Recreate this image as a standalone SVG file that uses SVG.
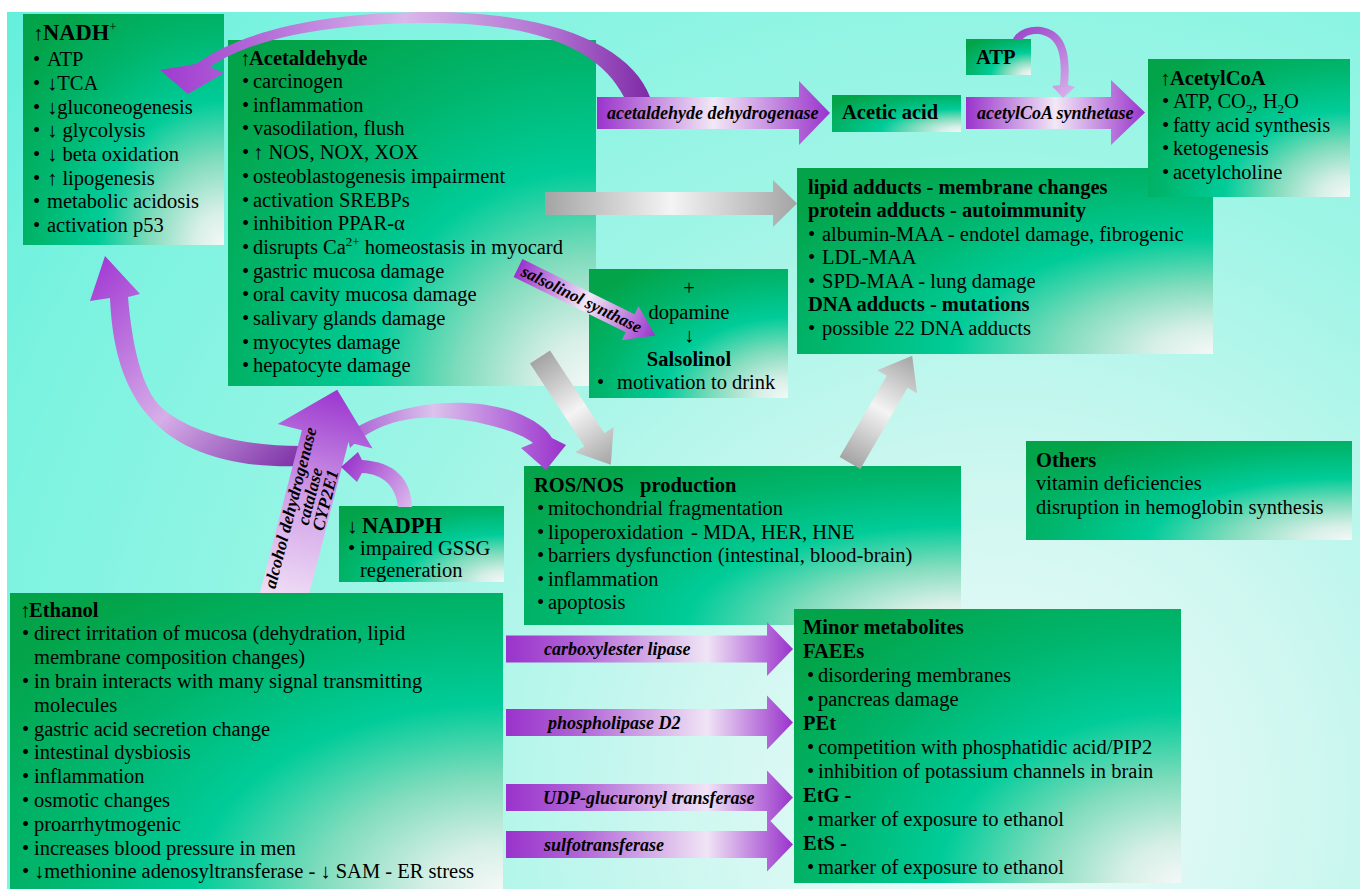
<svg xmlns="http://www.w3.org/2000/svg" width="1360" height="889" viewBox="0 0 1360 889">
<defs>
<radialGradient id="gBg" gradientUnits="userSpaceOnUse" cx="1000" cy="800" r="1300">
<stop offset="0" stop-color="#f2fbfb"/><stop offset="0.25" stop-color="#cdf7f0"/><stop offset="0.5" stop-color="#9ef5e6"/><stop offset="0.8" stop-color="#7cf3e0"/><stop offset="1" stop-color="#60efdc"/>
</radialGradient>
<radialGradient id="gBox" cx="1" cy="1" r="1.25" fx="1" fy="1">
<stop offset="0" stop-color="#f4f8f7"/><stop offset="0.12" stop-color="#d6efe6"/><stop offset="0.3" stop-color="#7fdcbc"/><stop offset="0.5" stop-color="#00cc99"/><stop offset="0.75" stop-color="#00b56c"/><stop offset="1" stop-color="#03a449"/>
</radialGradient>
<linearGradient id="gPurpH" x1="0" y1="0" x2="1" y2="0">
<stop offset="0" stop-color="#9a33cc"/><stop offset="0.5" stop-color="#f2e8f6"/><stop offset="1" stop-color="#9a33cc"/>
</linearGradient>
<linearGradient id="gPurpM" x1="0" y1="0" x2="1" y2="0">
<stop offset="0" stop-color="#9a33cc"/><stop offset="0.25" stop-color="#b063d6"/><stop offset="0.7" stop-color="#f0e4f5"/><stop offset="1" stop-color="#9a33cc"/>
</linearGradient>
<linearGradient id="gGray" x1="0" y1="0" x2="1" y2="0">
<stop offset="0" stop-color="#a4a4a4"/><stop offset="0.5" stop-color="#f4f4f4"/><stop offset="1" stop-color="#a4a4a4"/>
</linearGradient>
<linearGradient id="gBig" x1="0" y1="1" x2="0" y2="0">
<stop offset="0" stop-color="#f3e6f8"/><stop offset="0.5" stop-color="#d2a2e8"/><stop offset="1" stop-color="#9b35cf"/>
</linearGradient>
<linearGradient id="gTop" gradientUnits="userSpaceOnUse" x1="160" y1="0" x2="650" y2="0">
<stop offset="0" stop-color="#a03ad0"/><stop offset="0.2" stop-color="#b36ad8"/><stop offset="0.5" stop-color="#d9b8ea"/><stop offset="0.8" stop-color="#b070d0"/><stop offset="1" stop-color="#7e2aa6"/>
</linearGradient>
<linearGradient id="gLeft" gradientUnits="userSpaceOnUse" x1="300" y1="460" x2="104" y2="260">
<stop offset="0" stop-color="#7e33a8"/><stop offset="0.45" stop-color="#d6aee8"/><stop offset="1" stop-color="#a43dd4"/>
</linearGradient>
<linearGradient id="gRos" gradientUnits="userSpaceOnUse" x1="345" y1="0" x2="566" y2="0">
<stop offset="0" stop-color="#a55ad0"/><stop offset="0.4" stop-color="#dcc2ec"/><stop offset="1" stop-color="#9a30cc"/>
</linearGradient>
<linearGradient id="gNadph" gradientUnits="userSpaceOnUse" x1="410" y1="507" x2="342" y2="466">
<stop offset="0" stop-color="#dcb8ec"/><stop offset="1" stop-color="#9a35cc"/>
</linearGradient>
<linearGradient id="gAtp" gradientUnits="userSpaceOnUse" x1="1015" y1="30" x2="1065" y2="98">
<stop offset="0" stop-color="#9d45c9"/><stop offset="1" stop-color="#d6b0ea"/>
</linearGradient>
<clipPath id="cBig"><rect x="0" y="0" width="1360" height="593"/></clipPath>
<style>
.bx{fill:url(#gBox);}
.t{font-family:"Liberation Serif","Times New Roman","DejaVu Serif",serif;font-size:20.5px;fill:#000;}
.b{font-weight:bold;}
.h{font-size:22.5px;}
.lb{font-family:"Liberation Serif","Times New Roman","DejaVu Serif",serif;font-size:18px;font-style:italic;font-weight:bold;fill:#000;}
.sup{font-size:13px;}
</style>
</defs>

<rect x="0" y="0" width="1360" height="889" fill="#ffffff"/>
<rect x="7" y="12" width="1353" height="877" fill="url(#gBg)"/>

<g id="node-nadh">
<rect class="bx" x="23" y="14" width="201" height="231"/>
<text class="t" y="40"><tspan x="33">↑</tspan><tspan class="b h" x="43">NADH</tspan><tspan class="sup" dy="-9">+</tspan></text>
<text class="t" y="66"><tspan x="33">•</tspan><tspan x="47">ATP</tspan></text>
<text class="t" y="89.5"><tspan x="33">•</tspan><tspan x="47">↓TCA</tspan></text>
<text class="t" y="113.5"><tspan x="33">•</tspan><tspan x="47">↓gluconeogenesis</tspan></text>
<text class="t" y="137"><tspan x="33">•</tspan><tspan x="47">↓ glycolysis</tspan></text>
<text class="t" y="161"><tspan x="33">•</tspan><tspan x="47">↓ beta oxidation</tspan></text>
<text class="t" y="184.5"><tspan x="33">•</tspan><tspan x="47">↑ lipogenesis</tspan></text>
<text class="t" y="208"><tspan x="33">•</tspan><tspan x="47">metabolic acidosis</tspan></text>
<text class="t" y="232"><tspan x="33">•</tspan><tspan x="47">activation p53</tspan></text>
</g>

<g id="node-acetaldehyde">
<rect class="bx" x="228" y="40" width="368" height="346"/>
<text class="t" y="64.5"><tspan x="240">↑</tspan><tspan class="b" x="249">Acetaldehyde</tspan></text>
<text class="t" y="88"><tspan x="242">•</tspan><tspan x="253">carcinogen</tspan></text>
<text class="t" y="111.7"><tspan x="242">•</tspan><tspan x="253">inflammation</tspan></text>
<text class="t" y="135.4"><tspan x="242">•</tspan><tspan x="253">vasodilation, flush</tspan></text>
<text class="t" y="159.1"><tspan x="242">•</tspan><tspan x="253">↑ NOS, NOX, XOX</tspan></text>
<text class="t" y="182.8"><tspan x="242">•</tspan><tspan x="253">osteoblastogenesis impairment</tspan></text>
<text class="t" y="206.5"><tspan x="242">•</tspan><tspan x="253">activation SREBPs</tspan></text>
<text class="t" y="230.2"><tspan x="242">•</tspan><tspan x="253">inhibition PPAR-α</tspan></text>
<text class="t" y="253.9"><tspan x="242">•</tspan><tspan x="253">disrupts Ca</tspan><tspan class="sup" dy="-8">2+</tspan><tspan dy="8"> homeostasis in myocard</tspan></text>
<text class="t" y="277.6"><tspan x="242">•</tspan><tspan x="253">gastric mucosa damage</tspan></text>
<text class="t" y="301.3"><tspan x="242">•</tspan><tspan x="253">oral cavity mucosa damage</tspan></text>
<text class="t" y="325"><tspan x="242">•</tspan><tspan x="253">salivary glands damage</tspan></text>
<text class="t" y="348.7"><tspan x="242">•</tspan><tspan x="253">myocytes damage</tspan></text>
<text class="t" y="372.4"><tspan x="242">•</tspan><tspan x="253">hepatocyte damage</tspan></text>
</g>

<g id="node-acetic-acid">
<rect class="bx" x="832" y="95" width="129" height="37"/>
<text class="t b" x="842" y="119">Acetic acid</text>
</g>

<g id="node-atp">
<rect class="bx" x="966" y="39" width="65" height="36"/>
<text class="t b" x="976" y="64">ATP</text>
</g>

<g id="node-lipid-adducts">
<rect class="bx" x="797" y="168" width="416" height="186"/>
<text class="t b" x="808" y="193.5">lipid adducts - membrane changes</text>
<text class="t b" x="808" y="217">protein adducts - autoimmunity</text>
<text class="t" y="240.5"><tspan x="808">•</tspan><tspan x="822">albumin-MAA - endotel damage, fibrogenic</tspan></text>
<text class="t" y="264"><tspan x="808">•</tspan><tspan x="822">LDL-MAA</tspan></text>
<text class="t" y="287.5"><tspan x="808">•</tspan><tspan x="822">SPD-MAA - lung damage</tspan></text>
<text class="t b" x="808" y="311">DNA adducts - mutations</text>
<text class="t" y="334.5"><tspan x="808">•</tspan><tspan x="822">possible 22 DNA adducts</tspan></text>
</g>

<g id="node-acetylcoa">
<rect class="bx" x="1148" y="59" width="202" height="138"/>
<text class="t" y="85"><tspan x="1160">↑</tspan><tspan class="b" x="1170">AcetylCoA</tspan></text>
<text class="t" y="108"><tspan x="1162">•</tspan><tspan x="1173">ATP, CO</tspan><tspan class="sup" dy="5">2</tspan><tspan dy="-5">, H</tspan><tspan class="sup" dy="5">2</tspan><tspan dy="-5">O</tspan></text>
<text class="t" y="131.5"><tspan x="1162">•</tspan><tspan x="1173">fatty acid synthesis</tspan></text>
<text class="t" y="155"><tspan x="1162">•</tspan><tspan x="1173">ketogenesis</tspan></text>
<text class="t" y="178.5"><tspan x="1162">•</tspan><tspan x="1173">acetylcholine</tspan></text>
</g>

<g id="node-salsolinol">
<rect class="bx" x="589" y="269" width="199" height="129"/>
<text class="t" x="689" y="295" text-anchor="middle">+</text>
<text class="t" x="689" y="318.5" text-anchor="middle">dopamine</text>
<text class="t" x="689" y="342" text-anchor="middle">↓</text>
<text class="t b" x="689" y="365.5" text-anchor="middle">Salsolinol</text>
<text class="t" y="389"><tspan x="597">•</tspan><tspan x="617">motivation to drink</tspan></text>
</g>

<g id="node-ros">
<rect class="bx" x="524" y="466" width="437" height="159"/>
<text class="t b" y="491.5"><tspan x="534">ROS/NOS</tspan><tspan x="640">production</tspan></text>
<text class="t" y="515"><tspan x="537">•</tspan><tspan x="548">mitochondrial fragmentation</tspan></text>
<text class="t" y="538.5"><tspan x="537">•</tspan><tspan x="548">lipoperoxidation</tspan><tspan x="691">- MDA, HER, HNE</tspan></text>
<text class="t" y="562"><tspan x="537">•</tspan><tspan x="548">barriers dysfunction (intestinal, blood-brain)</tspan></text>
<text class="t" y="585.5"><tspan x="537">•</tspan><tspan x="548">inflammation</tspan></text>
<text class="t" y="609"><tspan x="537">•</tspan><tspan x="548">apoptosis</tspan></text>
</g>

<g id="node-others">
<rect class="bx" x="1026" y="441" width="326" height="99"/>
<text class="t b" x="1036" y="466.5">Others</text>
<text class="t" x="1036" y="490">vitamin deficiencies</text>
<text class="t" x="1036" y="513.5">disruption in hemoglobin synthesis</text>
</g>

<g id="node-nadph">
<rect class="bx" x="339" y="506" width="165" height="76"/>
<text class="t" y="533"><tspan x="347">↓</tspan><tspan class="b h" x="362">NADPH</tspan></text>
<text class="t" y="555"><tspan x="348">•</tspan><tspan x="360">impaired GSSG</tspan></text>
<text class="t" x="360" y="577">regeneration</text>
</g>

<g id="node-ethanol">
<rect class="bx" x="10" y="593" width="493" height="296"/>
<text class="t" y="616.5"><tspan x="20">↑</tspan><tspan class="b" x="29">Ethanol</tspan></text>
<text class="t" y="640.3"><tspan x="22">•</tspan><tspan x="34">direct irritation of mucosa (dehydration, lipid</tspan></text>
<text class="t" x="34" y="664.1">membrane composition changes)</text>
<text class="t" y="687.9"><tspan x="22">•</tspan><tspan x="34">in brain interacts with many signal transmitting</tspan></text>
<text class="t" x="34" y="711.7">molecules</text>
<text class="t" y="735.5"><tspan x="22">•</tspan><tspan x="34">gastric acid secretion change</tspan></text>
<text class="t" y="759.3"><tspan x="22">•</tspan><tspan x="34">intestinal dysbiosis</tspan></text>
<text class="t" y="783.1"><tspan x="22">•</tspan><tspan x="34">inflammation</tspan></text>
<text class="t" y="806.9"><tspan x="22">•</tspan><tspan x="34">osmotic changes</tspan></text>
<text class="t" y="830.7"><tspan x="22">•</tspan><tspan x="34">proarrhytmogenic</tspan></text>
<text class="t" y="854.5"><tspan x="22">•</tspan><tspan x="34">increases blood pressure in men</tspan></text>
<text class="t" y="878.3"><tspan x="22">•</tspan><tspan x="34">↓methionine adenosyltransferase - ↓ SAM - ER stress</tspan></text>
</g>

<g id="node-minor-metabolites">
<rect class="bx" x="794" y="609" width="387" height="274"/>
<text class="t b" x="803" y="633.5">Minor metabolites</text>
<text class="t b" x="803" y="657.5">FAEEs</text>
<text class="t" y="681.5"><tspan x="807">•</tspan><tspan x="818">disordering membranes</tspan></text>
<text class="t" y="705.5"><tspan x="807">•</tspan><tspan x="818">pancreas damage</tspan></text>
<text class="t b" x="803" y="729.5">PEt</text>
<text class="t" y="753.5"><tspan x="807">•</tspan><tspan x="818">competition with phosphatidic acid/PIP2</tspan></text>
<text class="t" y="777.5"><tspan x="807">•</tspan><tspan x="818">inhibition of potassium channels in brain</tspan></text>
<text class="t b" x="803" y="801.5">EtG -</text>
<text class="t" y="825.5"><tspan x="807">•</tspan><tspan x="818">marker of exposure to ethanol</tspan></text>
<text class="t b" x="803" y="849.5">EtS -</text>
<text class="t" y="873.5"><tspan x="807">•</tspan><tspan x="818">marker of exposure to ethanol</tspan></text>
</g>

<g id="connectors">
<path d="M650,97 C632,48 556,12 430,12 C320,12 240,32 196,64 L160,70 L188,94 L224,73 L210,67 C252,38 330,23 430,23 C540,23 600,50 624,97 Z" fill="url(#gTop)"/>
<path d="M597,97 L799,97 L799,81 L830,113 L799,145 L799,129 L597,129 Z" fill="url(#gPurpH)"/>
<text class="lb" x="607" y="119">acetaldehyde dehydrogenase</text>
<path d="M966,97 L1111,97 L1111,80 L1145,112.5 L1111,145 L1111,129 L966,129 Z" fill="url(#gPurpH)"/>
<text class="lb" x="977" y="119">acetylCoA synthetase</text>
<path d="M1013,39 C1020,25 1045,22 1058,35 C1068,45 1070,62 1068,85 L1075,87 L1063,98 L1052,86 L1060,85 C1062,62 1060,48 1052,40 C1042,31 1027,33 1022,40 Z" fill="url(#gAtp)"/>
<path d="M545,192 L773,192 L773,180 L797,203.5 L773,227 L773,215 L545,215 Z" fill="url(#gGray)"/>
<g transform="translate(540,357) rotate(56.7)">
<path d="M0,-12 L99,-12 L99,-23 L129,0 L99,23 L99,12 L0,12 Z" fill="url(#gGray)"/>
</g>
<g transform="translate(850,463) rotate(-59.9)">
<path d="M0,-12 L94,-12 L94,-23 L124,0 L94,23 L94,12 L0,12 Z" fill="url(#gGray)"/>
</g>
<g transform="translate(518,268) rotate(26.2)">
<path d="M0,-10 L125,-10 L125,-19 L153,0 L125,19 L125,10 L0,10 Z" fill="url(#gPurpH)"/>
<text class="lb" x="5" y="5.5" style="font-size:17px">salsolinol synthase</text>
</g>
<path d="M347,433 C390,405 460,393 515,412 C535,420 547,429 552,438 L566,445 L546,470 L521,448 L533,443 C520,432 470,415 420,418 C390,420 366,432 350,448 Z" fill="url(#gRos)"/>
<path d="M300,446 C240,446 190,432 162,408 C142,390 132,345 128,297 L140,294 L105,256 L90,301 L110,298 C112,345 122,388 152,420 C190,460 250,468 302,466 Z" fill="url(#gLeft)"/>
<g clip-path="url(#cBig)">
<g transform="translate(284.6,593) rotate(14.5)">
<path d="M-24,20 L-24,-162 L-49,-162 L0,-210 L49,-162 L24,-162 L24,20 Z" fill="url(#gBig)"/>
<text class="lb" style="font-size:17.5px" text-anchor="middle" transform="translate(-10,-84) rotate(-90)">alcohol dehydrogenase</text>
<text class="lb" style="font-size:17.5px" text-anchor="middle" transform="translate(6,-100) rotate(-90)">catalase</text>
<text class="lb" style="font-size:17.5px" text-anchor="middle" transform="translate(22,-100) rotate(-90)">CYP2E1</text>
</g>
</g>
<path d="M412,507 C411,478 394,462 362,460 L358,452 L341,467 L357,482 L362,473 C384,474 396,487 398,507 Z" fill="url(#gNadph)"/>
<path d="M506,635.5 L767,635.5 L767,622 L793,649 L767,676 L767,662.5 L506,662.5 Z" fill="url(#gPurpM)"/>
<text class="lb" x="544" y="655">carboxylester lipase</text>
<path d="M506,709 L767,709 L767,695.5 L793,722.5 L767,749.5 L767,736 L506,736 Z" fill="url(#gPurpM)"/>
<text class="lb" x="548" y="728.5">phospholipase D2</text>
<path d="M506,784 L767,784 L767,770.5 L793,797.5 L767,824.5 L767,811 L506,811 Z" fill="url(#gPurpM)"/>
<text class="lb" x="543" y="803.5">UDP-glucuronyl transferase</text>
<path d="M506,831 L767,831 L767,817.5 L793,844.5 L767,871.5 L767,858 L506,858 Z" fill="url(#gPurpM)"/>
<text class="lb" x="544" y="850.5">sulfotransferase</text>
</g>
</svg>
